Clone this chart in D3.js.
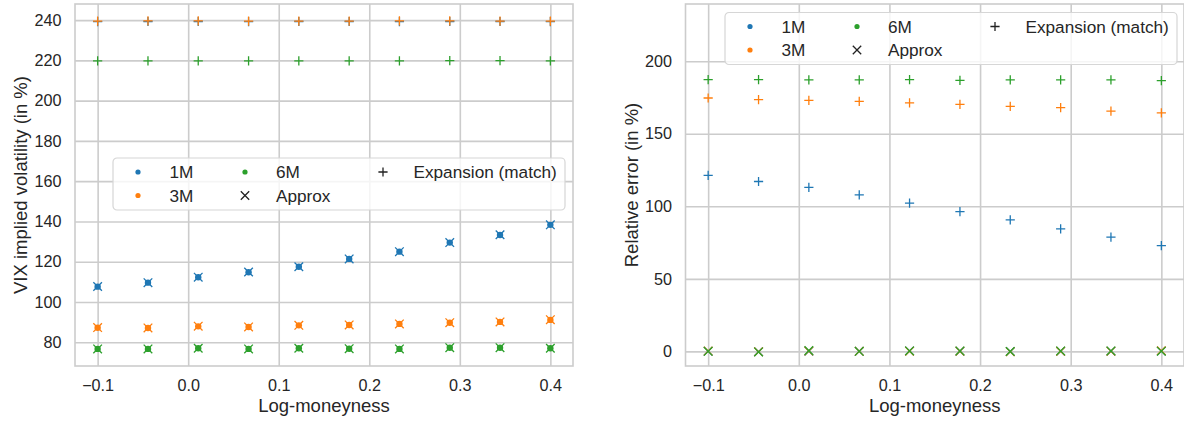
<!DOCTYPE html>
<html>
<head>
<meta charset="utf-8">
<script src="https://cdn.jsdelivr.net/npm/d3@7"></script>
<style>
  body { margin: 0; background: #fff; }
  svg { display: block; font-family: "Liberation Sans", Arial, sans-serif; }
  .grid line { stroke: #cccccc; stroke-width: 1.6; }
  .grid path { display: none; }
  .grid text { fill: #262626; font-size: 16.2px; }
</style>
</head>
<body>
<svg id="chart" width="1184" height="421"></svg>
<script>
// log-moneyness grid (10 strikes)
var logK = [-0.1, -0.0444, 0.0111, 0.0667, 0.1222, 0.1778, 0.2333, 0.2889, 0.3444, 0.4];
var tenors = ["1M", "3M", "6M"];
var colors = ["#1f77b4", "#ff7f0e", "#2ca02c"];

// left panel: VIX implied vol (in %)
var marketVol = [
  [107.6, 109.6, 112.3, 114.8, 117.5, 121.4, 125.0, 129.5, 133.3, 138.3],
  [87.2, 87.1, 87.9, 87.6, 88.4, 88.6, 89.1, 89.7, 90.1, 91.1],
  [76.7, 76.7, 77.0, 76.7, 77.0, 76.8, 76.7, 77.3, 77.3, 77.0]
];
var approxVol = [
  [107.7, 109.6, 112.3, 114.9, 117.5, 121.4, 125.0, 129.5, 133.4, 138.3],
  [87.3, 87.1, 88.0, 87.6, 88.4, 88.6, 89.1, 89.7, 90.1, 91.2],
  [76.7, 76.7, 77.0, 76.7, 77.0, 76.8, 76.7, 77.3, 77.3, 77.0]
];
var expansionVol = [
  [239.2, 239.3, 239.3, 239.2, 239.3, 239.3, 239.2, 239.3, 239.3, 239.2],
  [239.5, 239.6, 239.6, 239.5, 239.5, 239.5, 239.6, 239.6, 239.5, 239.5],
  [219.8, 219.8, 219.8, 219.8, 219.8, 219.8, 219.8, 219.9, 219.9, 219.8]
];

// right panel: relative error (in %)
var expansionErr = [
  [121.3, 117.1, 113.0, 107.9, 102.2, 96.4, 90.7, 84.5, 78.7, 72.9],
  [174.7, 173.6, 173.1, 172.4, 171.3, 170.3, 168.9, 168.0, 165.7, 164.4],
  [187.4, 187.4, 187.2, 187.2, 187.4, 186.9, 187.2, 187.2, 187.2, 186.7]
];
var approxErr = [
  [0.1, -0.2, 0.1, 0.0, 0.3, 0.0, -0.1, 0.0, 0.1, 0.2],
  [0.2, -0.3, 0.2, 0.0, 0.1, 0.1, -0.2, 0.0, 0.1, 0.4],
  [0.0, -0.4, 0.5, 0.0, 0.3, 0.3, -0.1, 0.3, 0.3, 0.1]
];

var xTicks = [-0.1, 0.0, 0.1, 0.2, 0.3, 0.4];
var volTicks = [80, 100, 120, 140, 160, 180, 200, 220, 240];
var errTicks = [0, 50, 100, 150, 200];

var svg = d3.select("#chart");
var plotTop = 4, plotBottom = 366;

function plusPath(s) { return "M" + (-s) + ",0H" + s + "M0," + (-s) + "V" + s; }
function crossPath(s) { return "M" + (-s) + "," + (-s) + "L" + s + "," + s + "M" + (-s) + "," + s + "L" + s + "," + (-s); }

function panel(left, right, yDomain, yTicks, ylabel) {
  var g = svg.append("g");
  var x = d3.scaleLinear().domain([-0.125, 0.425]).range([left, right]);
  var y = d3.scaleLinear().domain(yDomain).range([plotBottom, plotTop]);

  var xa = g.append("g").attr("class", "grid")
    .attr("transform", "translate(0," + plotBottom + ")")
    .call(d3.axisBottom(x).tickValues(xTicks)
      .tickSizeInner(-(plotBottom - plotTop)).tickSizeOuter(0).tickPadding(13.5));
  xa.selectAll("text").text(function(d) { return d3.format(".1f")(d).replace("-", "\u2212"); });

  g.append("g").attr("class", "grid")
    .attr("transform", "translate(" + left + ",0)")
    .call(d3.axisLeft(y).tickValues(yTicks)
      .tickSizeInner(-(right - left)).tickSizeOuter(0).tickPadding(13.5));

  g.append("rect").attr("x", left).attr("y", plotTop)
    .attr("width", right - left).attr("height", plotBottom - plotTop)
    .attr("fill", "none").attr("stroke", "#cccccc").attr("stroke-width", 1.6);

  g.append("text").attr("x", (left + right) / 2).attr("y", plotBottom + 45.5)
    .attr("text-anchor", "middle").attr("fill", "#262626").style("font-size", "18.5px")
    .text("Log-moneyness");
  g.append("text")
    .attr("transform", "translate(" + (left - 48) + "," + ((plotTop + plotBottom) / 2) + ") rotate(-90)")
    .attr("text-anchor", "middle").attr("fill", "#262626").style("font-size", "18.5px")
    .text(ylabel);

  g.x = x; g.y = y;
  return g;
}

function markers(g, vals, k, shape) {
  var sel = g.append("g").selectAll("path").data(vals).enter();
  if (shape === "dot") {
    sel.append("circle")
      .attr("cx", function(d, i) { return g.x(logK[i]); })
      .attr("cy", function(d) { return g.y(d); })
      .attr("r", 3.2).attr("fill", colors[k]);
  } else {
    sel.append("path")
      .attr("transform", function(d, i) { return "translate(" + g.x(logK[i]) + "," + g.y(d) + ")"; })
      .attr("d", shape === "plus" ? plusPath(4.6) : crossPath(4.3))
      .attr("stroke", colors[k]).attr("stroke-width", 1.3).attr("fill", "none");
  }
}

function legend(g, lx, ly) {
  var lg = g.append("g").attr("transform", "translate(" + lx + "," + ly + ")");
  lg.append("rect").attr("width", 452).attr("height", 52).attr("rx", 4)
    .attr("fill", "#ffffff").attr("fill-opacity", 0.8)
    .attr("stroke", "#d6d6d6").attr("stroke-width", 1.2);
  var items = [
    {label: tenors[0], type: "dot", color: colors[0]},
    {label: tenors[1], type: "dot", color: colors[1]},
    {label: tenors[2], type: "dot", color: colors[2]},
    {label: "Approx", type: "cross", color: "#222"},
    {label: "Expansion (match)", type: "plus", color: "#222"}
  ];
  var mx = [25, 132, 270], tx = [56.5, 163, 300.5], ry = [14, 37.5];
  items.forEach(function(it, i) {
    var c = Math.floor(i / 2), r = i % 2;
    if (it.type === "dot") {
      lg.append("circle").attr("cx", mx[c]).attr("cy", ry[r]).attr("r", 2.6).attr("fill", it.color);
    } else {
      lg.append("path").attr("transform", "translate(" + mx[c] + "," + ry[r] + ")")
        .attr("d", it.type === "plus" ? plusPath(4.6) : crossPath(4.2))
        .attr("stroke", it.color).attr("stroke-width", 1.3).attr("fill", "none");
    }
    lg.append("text").attr("x", tx[c]).attr("y", ry[r]).attr("dy", "0.35em")
      .attr("fill", "#262626").style("font-size", "17.2px").text(it.label);
  });
}

// left panel
var gl = panel(75, 573, [68.2, 248.0], volTicks, "VIX implied volatility (in %)");
tenors.forEach(function(t, k) {
  markers(gl, approxVol[k], k, "cross");
  markers(gl, marketVol[k], k, "dot");
  markers(gl, expansionVol[k], k, "plus");
});
legend(gl, 113, 158);

// right panel
var gr = panel(685.5, 1184, [-10.1, 239.5], errTicks, "Relative error (in %)");
tenors.forEach(function(t, k) {
  markers(gr, approxErr[k], k, "cross");
  markers(gr, expansionErr[k], k, "plus");
});
legend(gr, 725, 12.5);
</script>
</body>
</html>
